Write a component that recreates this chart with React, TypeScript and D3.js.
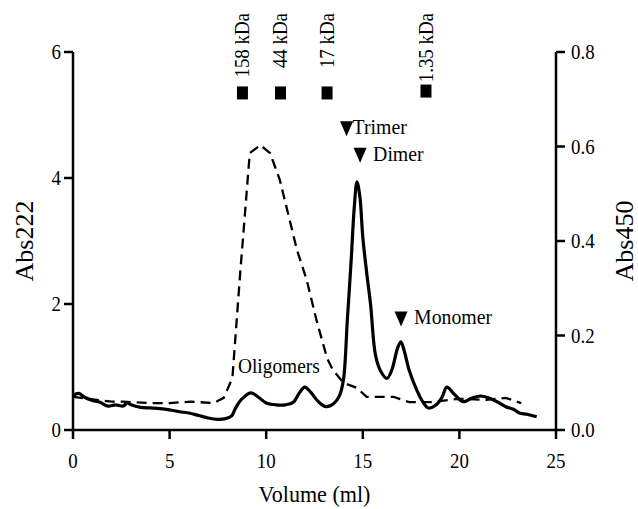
import React from 'react';
import * as d3 from 'd3';

// Abs222 trace (solid, left axis)
const volume222 = [0.0, 0.3, 0.6, 1.0, 1.4, 1.8, 2.2, 2.6, 2.8, 3.0, 3.5, 4.0, 4.5, 5.0, 5.5, 6.0, 6.5, 7.0, 7.5, 7.9, 8.2, 8.4, 8.7, 9.2, 9.6, 10.0, 10.5, 11.0, 11.4, 11.7, 12.0, 12.3, 12.7, 13.1, 13.5, 13.8, 14.0, 14.2, 14.4, 14.55, 14.7, 14.85, 15.0, 15.2, 15.4, 15.65, 15.9, 16.25, 16.5, 16.8, 16.97, 17.15, 17.4, 17.8, 18.1, 18.4, 18.8, 19.1, 19.35, 19.7, 20.2, 20.6, 21.1, 21.6, 22.0, 22.4, 22.8, 23.1, 23.5, 24.0];
const abs222 = [0.55, 0.58, 0.52, 0.47, 0.44, 0.38, 0.40, 0.38, 0.43, 0.40, 0.36, 0.35, 0.34, 0.32, 0.29, 0.27, 0.23, 0.19, 0.17, 0.18, 0.22, 0.34, 0.48, 0.59, 0.52, 0.43, 0.40, 0.40, 0.44, 0.58, 0.68, 0.60, 0.45, 0.37, 0.42, 0.55, 0.80, 1.75, 2.7, 3.5, 3.94, 3.7, 3.06, 2.5, 2.0, 1.2, 0.95, 0.82, 0.95, 1.30, 1.40, 1.25, 0.95, 0.63, 0.45, 0.35, 0.40, 0.52, 0.68, 0.58, 0.45, 0.50, 0.54, 0.50, 0.44, 0.37, 0.33, 0.27, 0.25, 0.21];

// Abs450 trace (dashed, right axis)
const volume450 = [0.0, 1.0, 2.0, 2.6, 3.9, 5.0, 6.1, 7.3, 7.8, 8.25, 8.65, 9.15, 9.7, 10.2, 10.7, 11.6, 12.1, 12.6, 13.15, 13.45, 14.0, 14.7, 15.2, 16.6, 17.4, 18.6, 19.9, 21.4, 22.4, 23.2];
const abs450 = [0.07, 0.065, 0.06, 0.06, 0.057, 0.057, 0.06, 0.057, 0.068, 0.11, 0.33, 0.586, 0.603, 0.586, 0.53, 0.38, 0.317, 0.233, 0.152, 0.127, 0.10, 0.089, 0.07, 0.07, 0.059, 0.059, 0.066, 0.064, 0.068, 0.057];

// size standards (squares)
const standardLabels = ['158 kDa', '44 kDa', '17 kDa', '1.35 kDa'];
const standardVolumes = [8.77, 10.74, 13.15, 18.27];
const standardLevels = [5.35, 5.35, 5.35, 5.38];

// oligomer states (triangles)
const stateLabels = ['Trimer', 'Dimer', 'Monomer'];
const stateVolumes = [14.16, 14.86, 16.98];
const stateLevels = [4.79, 4.37, 1.77];

const xTicks = [0, 5, 10, 15, 20, 25];
const leftTicks = [0, 2, 4, 6];
const rightTicks = [0, 0.2, 0.4, 0.6, 0.8];

const FONT = "'Liberation Serif', 'Times New Roman', serif";

export default function App() {
  const width = 638;
  const height = 509;
  const margin = { top: 52, right: 82, bottom: 79, left: 73 };

  const x = d3.scaleLinear().domain([0, 25]).range([margin.left, width - margin.right]);
  const yL = d3.scaleLinear().domain([0, 6]).range([height - margin.bottom, margin.top]);
  const yR = d3.scaleLinear().domain([0, 0.8]).range([height - margin.bottom, margin.top]);

  const solid = d3.line<number>()
    .x((d, i) => x(volume222[i]))
    .y(d => yL(d))
    .curve(d3.curveCatmullRom.alpha(0.5));

  const dashed = d3.line<number>()
    .x((d, i) => x(volume450[i]))
    .y(d => yR(d));

  const x0 = x(0), x1 = x(25), yb = yL(0), yt = yL(6);
  const tick = 9;

  return (
    <svg width={width} height={height}
      style={{ position: 'absolute', left: 0, top: 0, background: '#fff', fontFamily: FONT }}
      fill="#000">
      {/* traces */}
      <path d={dashed(abs450) || ''} fill="none" stroke="#000" strokeWidth={2.3} strokeDasharray="10,6" />
      <path d={solid(abs222) || ''} fill="none" stroke="#000" strokeWidth={3.2} strokeLinejoin="round" />

      {/* axes */}
      <g stroke="#000" strokeWidth={2.5} fill="none">
        <line x1={x0} x2={x0} y1={yt} y2={yb + 1.25} />
        <line x1={x1} x2={x1} y1={yt} y2={yb + 1.25} />
        <line x1={x0} x2={x1} y1={yb} y2={yb} />
        {xTicks.map(t => <line key={'xt' + t} x1={x(t)} x2={x(t)} y1={yb} y2={yb + tick} />)}
        {leftTicks.map(t => <line key={'lt' + t} x1={x0 - tick} x2={x0} y1={yL(t)} y2={yL(t)} />)}
        {rightTicks.map(t => <line key={'rt' + t} x1={x1} x2={x1 + tick} y1={yR(t)} y2={yR(t)} />)}
      </g>

      {xTicks.map(t => (
        <text key={'xl' + t} transform={`translate(${x(t)},${yb + 38}) scale(0.9,1)`} textAnchor="middle" fontSize={21}>{t}</text>
      ))}
      {leftTicks.map(t => (
        <text key={'ll' + t} transform={`translate(${x0 - 12},${yL(t) + 7}) scale(0.9,1)`} textAnchor="end" fontSize={21}>{t}</text>
      ))}
      {rightTicks.map(t => (
        <text key={'rl' + t} transform={`translate(${x1 + 15},${yR(t) + 7}) scale(0.9,1)`} textAnchor="start" fontSize={21}>{t.toFixed(1)}</text>
      ))}

      {/* axis titles */}
      <text transform={`translate(${(x0 + x1) / 2},${height - 7}) scale(0.92,1)`} textAnchor="middle" fontSize={24}>Volume (ml)</text>
      <text transform={`translate(33,${(yt + yb) / 2}) rotate(-90)`} textAnchor="middle" fontSize={26}>Abs222</text>
      <text transform={`translate(633,${(yt + yb) / 2}) rotate(-90)`} textAnchor="middle" fontSize={26}>Abs450</text>

      {/* standards */}
      {standardLabels.map((lab, i) => {
        const cx = x(standardVolumes[i]);
        const cy = yL(standardLevels[i]);
        return (
          <g key={lab}>
            <rect x={cx - 5.5} y={cy - 6.5} width={11} height={13} />
            <text transform={`translate(${cx + 7},13) rotate(-90) scale(0.9,1)`} textAnchor="end" fontSize={21}>{lab}</text>
          </g>
        );
      })}

      {/* oligomer states */}
      {stateLabels.map((lab, i) => {
        const cx = x(stateVolumes[i]);
        const cy = yL(stateLevels[i]);
        const gap = lab === 'Trimer' ? 7 : 14;
        return (
          <g key={lab}>
            <path d={`M${cx - 6.5},${cy - 7}L${cx + 6.5},${cy - 7}L${cx},${cy + 8}Z`} />
            <text transform={`translate(${cx + gap - 1},${cy + 6}) scale(0.9,1)`} fontSize={22}>{lab}</text>
          </g>
        );
      })}

      <text transform={`translate(${x(8.54)},${yL(0.9)}) scale(0.88,1)`} fontSize={22}>Oligomers</text>
    </svg>
  );
}
